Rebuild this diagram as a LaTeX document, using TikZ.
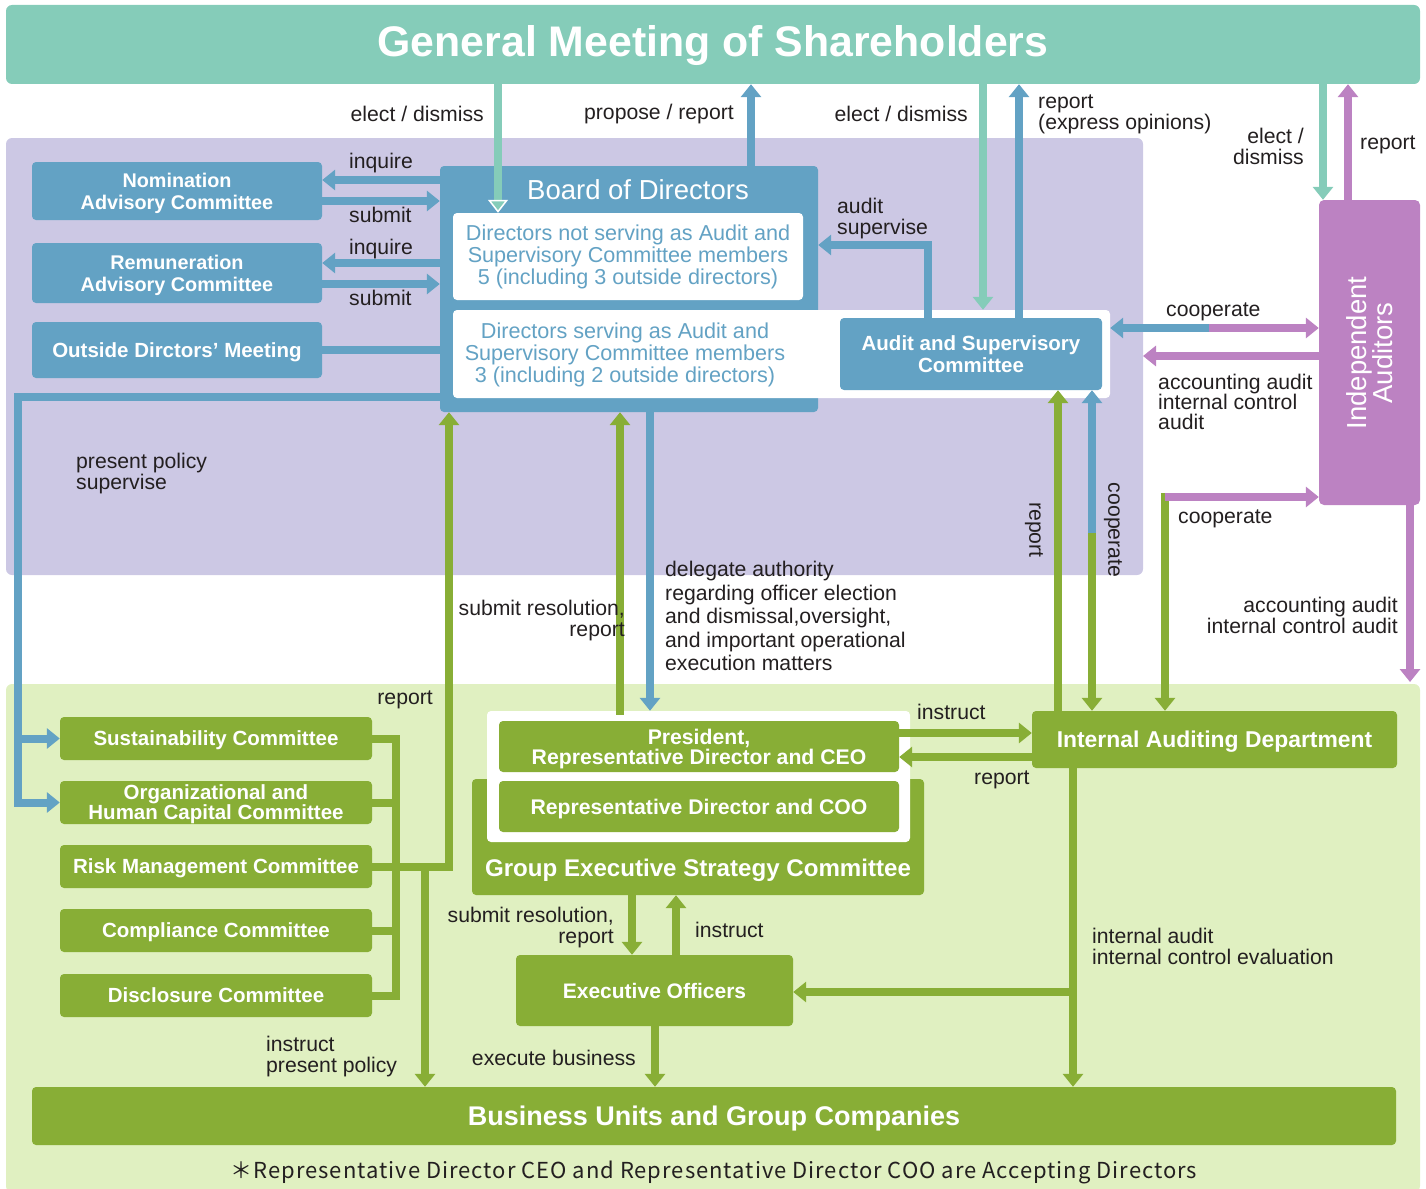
\documentclass[tikz,border=0pt]{standalone}
\usepackage{fontspec}
\setmainfont{Liberation Sans}
\newfontfamily\notefont[LetterSpace=4.5]{Noto Sans CJK JP}
\usetikzlibrary{arrows.meta}

\definecolor{gmsteal}{RGB}{133,204,185}
\definecolor{bodblue}{RGB}{99,162,196}
\definecolor{opgreen}{RGB}{136,174,54}
\definecolor{auditpurple}{RGB}{188,130,194}
\definecolor{boardbg}{RGB}{204,200,228}
\definecolor{execbg}{RGB}{224,240,193}
\definecolor{labelgray}{RGB}{35,31,32}

\newcommand\lblfont{\fontsize{21.2}{21}\selectfont}
\newcommand\boxfont{\bfseries\fontsize{20.5}{22}\selectfont}
\newcommand\dirfont{\fontsize{21.6}{22}\selectfont}

\begin{document}
\begin{tikzpicture}[x=1pt,y=1pt,yscale=-1,
  >={Triangle[width=20pt,length=13pt]},
  lbl/.style={text=labelgray,font=\lblfont,align=left,inner sep=0},
  bluebox/.style={fill=bodblue,rounded corners=4,text=white,font=\boxfont,align=center,inner sep=0,text depth=0pt},
  greenbox/.style={fill=opgreen,rounded corners=4,text=white,font=\boxfont,align=center,inner sep=0,text depth=0pt},
  whitebox/.style={fill=white,rounded corners=4,inner sep=0},
  wire/.style={line width=8,line cap=rect},
  ]
\useasboundingbox (0,0) rectangle (1426,1188);

%Shape: Rectangle [board pane]
\fill[boardbg,rounded corners=6] (6,138) rectangle (1143,575);
%Shape: Rectangle [execution pane]
\fill[execbg,rounded corners=6] (6,684) rectangle (1420,1192);

% General meeting
\node (gms) [fill=gmsteal,rounded corners=6,minimum width=1414,minimum height=79,inner sep=0] at (713,44.5) {};
\node (gmstitle) [text=white,inner sep=0,font=\bfseries\fontsize{42.8}{44}\selectfont] at (713,46) {General Meeting of Shareholders};

% Independent auditors
\node (ia) [fill=auditpurple,rounded corners=5,minimum width=101,minimum height=305,inner sep=0] at (1369.5,352.5) {};
\node (iatext) [rotate=90,text=white,align=center,inner sep=0,font=\fontsize{27.5}{26}\selectfont] at (1370,353) {Independent\\Auditors};

% Advisory bodies
\node (nac) [bluebox,minimum width=290,minimum height=58,font=\bfseries\fontsize{19.8}{22}\selectfont] at (177,191) {Nomination\\Advisory Committee};
\node (rac) [bluebox,minimum width=290,minimum height=60,font=\bfseries\fontsize{19.8}{22}\selectfont] at (177,273) {Remuneration\\Advisory Committee};
\node (odm) [bluebox,minimum width=290,minimum height=56] at (177,350) {Outside Dirctors’ Meeting};

% Board of directors
\node (bod) [fill=bodblue,rounded corners=4,minimum width=378,minimum height=246,inner sep=0] at (629,289) {};
\node (bodtitle) [text=white,inner sep=0,font=\fontsize{27.5}{30}\selectfont] at (638,190) {Board of Directors};
\node (dnot) [whitebox,minimum width=350,minimum height=87,text=bodblue,font=\dirfont,align=center] at (628,256.5) {Directors not serving as Audit and\\Supervisory Committee members\\5 (including 3 outside directors)};
\node (dsrvframe) [whitebox,minimum width=657,minimum height=88] at (781.5,354) {};
\node (dsrv) [text=bodblue,font=\dirfont,align=center,inner sep=0] at (625,355) {Directors serving as Audit and\\Supervisory Committee members\\3 (including 2 outside directors)};
\node (asc) [bluebox,minimum width=262,minimum height=72] at (971,354) {Audit and Supervisory\\Committee};

% Committees
\node (sus) [greenbox,minimum width=312,minimum height=43] at (216,738.5) {Sustainability Committee};
\node (ohc) [greenbox,minimum width=312,minimum height=43,font=\bfseries\fontsize{20.5}{20}\selectfont] at (216,802.5) {Organizational and\\Human Capital Committee};
\node (rmc) [greenbox,minimum width=312,minimum height=43] at (216,866.5) {Risk Management Committee};
\node (cmp) [greenbox,minimum width=312,minimum height=43] at (216,930.5) {Compliance Committee};
\node (dsc) [greenbox,minimum width=312,minimum height=43] at (216,995.5) {Disclosure Committee};

% Executive side
\node (gesc) [greenbox,minimum width=452,minimum height=116] at (698,837) {};
\node (gesctitle) [text=white,inner sep=0,font=\bfseries\fontsize{24.1}{26}\selectfont] at (698,870) {Group Executive Strategy Committee};
\node (geframe) [whitebox,minimum width=423,minimum height=131] at (698.5,776.5) {};
\node (pres) [greenbox,minimum width=400,minimum height=51,font=\bfseries\fontsize{21.2}{20}\selectfont] at (699,746.5) {President,\\Representative Director and CEO};
\node (coo) [greenbox,minimum width=400,minimum height=51,font=\bfseries\fontsize{21.2}{22}\selectfont] at (699,806.5) {Representative Director and COO};
\node (eo) [greenbox,minimum width=277,minimum height=71,font=\bfseries\fontsize{21}{22}\selectfont] at (654.5,990.5) {Executive Officers};
\node (iad) [greenbox,minimum width=365,minimum height=57,font=\bfseries\fontsize{22.9}{24}\selectfont] at (1214.5,739.5) {Internal Auditing Department};
\node (bu) [greenbox,minimum width=1364,minimum height=58,font=\bfseries\fontsize{27}{28}\selectfont] at (714,1116) {Business Units and Group Companies};

% Footnote
\node (note) [text=labelgray,inner sep=0,font=\notefont\fontsize{22}{22}\selectfont] at (714,1172) {＊Representative Director CEO and Representative Director COO are Accepting Directors};

% Connectors: shareholders
\draw[wire,gmsteal,-{Triangle[width=20pt,length=13pt,fill=gmsteal,color=white,line width=1.5pt]}] (gms.south -| 498,0) -- (dnot.north -| 498,0);
\draw[wire,bodblue,->] (bod.north -| 751,0) -- (gms.south -| 751,0);
\draw[wire,gmsteal,->] (gms.south -| 983,0) -- (dsrvframe.north -| 983,0);
\draw[wire,bodblue,->] (asc.north -| 1019,0) -- (gms.south -| 1019,0);
\draw[wire,gmsteal,->] (gms.south -| 1323,0) -- (ia.north -| 1323,0);
\draw[wire,auditpurple,->] (ia.north -| 1348,0) -- (gms.south -| 1348,0);

% Connectors: advisory bodies
\draw[wire,bodblue,->] (bod.west |- 0,180) -- (nac.east |- 0,180);
\draw[wire,bodblue,->] (nac.east |- 0,201) -- (bod.west |- 0,201);
\draw[wire,bodblue,->] (bod.west |- 0,263) -- (rac.east |- 0,263);
\draw[wire,bodblue,->] (rac.east |- 0,284) -- (bod.west |- 0,284);
\draw[wire,bodblue] (odm.east) -- (bod.west |- odm.east);

% Connectors: audit and supervisory committee
\draw[wire,bodblue,->] (asc.north -| 928,0) |- (bod.east |- 0,245);
\coordinate (coopmid) at (1213,328);
\draw[wire,bodblue,->] (coopmid) -- (dsrvframe.east |- coopmid);
\draw[wire,auditpurple,->] (coopmid) -- (ia.west |- coopmid);
\coordinate (boardpane) at (1143,356);
\draw[wire,auditpurple,->] (ia.west |- boardpane) -- (boardpane);

% Connectors: board to execution
\draw[wire,bodblue,->] (bod.west |- 0,397) -| (18,0 |- ohc.west) -- (ohc.west);
\draw[wire,bodblue,->] (sus.west -| 18,0) -- (sus.west);
\draw[wire,bodblue,->] (bod.south -| 650,0) -- (geframe.north -| 650,0);
\draw[wire,opgreen,->] (geframe.north -| 620,0) -- (bod.south -| 620,0);

% Connectors: committees
\coordinate (bus) at (396,0);
\foreach \c in {sus,ohc,cmp,dsc}
  \draw[wire,opgreen] (\c.east) -- (\c.east -| bus);
\draw[wire,opgreen] (sus.east -| bus) -- (dsc.east -| bus);
\draw[wire,opgreen] (rmc.east) -- (rmc.east -| 449,0);
\draw[wire,opgreen,->] (rmc.east -| 449,0) -- (bod.south -| 449,0);
\draw[wire,opgreen,->] (rmc.east -| 425,0) -- (bu.north -| 425,0);

% Connectors: executive side
\draw[wire,opgreen,->] (gesc.south -| 632,0) -- (eo.north -| 632,0);
\draw[wire,opgreen,->] (eo.north -| 676,0) -- (gesc.south -| 676,0);
\draw[wire,opgreen,->] (eo.south -| 655,0) -- (bu.north -| 655,0);
\draw[wire,opgreen,->] (pres.east |- 0,733) -- (iad.west |- 0,733);
\draw[wire,opgreen,->] (iad.west |- 0,757) -- (pres.east |- 0,757);

% Connectors: internal auditing
\draw[wire,opgreen,->] (iad.north -| 1058,0) -- (asc.south -| 1058,0);
\coordinate (coopsplit) at (1092,537);
\draw[wire,bodblue,->] (coopsplit) -- (asc.south -| coopsplit);
\draw[wire,opgreen,->] (coopsplit) -- (iad.north -| coopsplit);
\coordinate (coopcorner) at (1165,497);
\draw[wire,opgreen,->] (coopcorner) -- (iad.north -| coopcorner);
\draw[wire,auditpurple,->] ([xshift=4]coopcorner) -- (ia.west |- coopcorner);
\coordinate (execpane) at (1410,682);
\draw[wire,auditpurple,->] (ia.south -| execpane) -- (execpane);
\draw[wire,opgreen,->] (iad.south -| 1073,0) -- (bu.north -| 1073,0);
\coordinate (audfork) at (1073,992);
\draw[wire,opgreen,->] (audfork) -- (eo.east |- audfork);

% Text Node
\node (l1) [lbl,anchor=east] at (484,114) {elect / dismiss};
\node (l2) [lbl,anchor=east] at (734,114) {propose / report};
\node (l3) [lbl,anchor=east] at (968,114) {elect / dismiss};
\node (l4) [lbl,anchor=west] at (1038,114) {report\\(express opinions)};
\node (l5) [lbl,anchor=east,align=right] at (1304,146) {elect /\\dismiss};
\node (l6) [lbl,anchor=west] at (1360,145) {report};
\node (l7) [lbl,anchor=west] at (349,163) {inquire};
\node (l8) [lbl,anchor=west] at (349,215) {submit};
\node (l9) [lbl,anchor=west] at (349,249) {inquire};
\node (l10) [lbl,anchor=west] at (349,298) {submit};
\node (l11) [lbl,anchor=west] at (837,219) {audit\\supervise};
\node (l12) [lbl,anchor=west] at (1166,312) {cooperate};
\node (l13) [lbl,anchor=west,font=\fontsize{21.2}{20}\selectfont] at (1158,402) {accounting audit\\internal control\\audit};
\node (l14) [lbl,anchor=west] at (76,474) {present policy\\supervise};
\node (l15) [lbl,anchor=east,align=right] at (625,621) {submit resolution,\\report};
\node (l16) [lbl,anchor=west,font=\fontsize{21.2}{23.5}\selectfont] at (665,616) {delegate authority\\regarding officer election\\and dismissal,oversight,\\and important operational\\execution matters};
\node (l17) [lbl,rotate=-90] at (1034,530) {report};
\node (l18) [lbl,rotate=-90] at (1113,530) {cooperate};
\node (l19) [lbl,anchor=west] at (1178,519) {cooperate};
\node (l20) [lbl,anchor=east,align=right] at (1398,615) {accounting audit\\internal control audit};
\node (l21) [lbl,anchor=east] at (433,700) {report};
\node (l22) [lbl,anchor=west] at (917,712) {instruct};
\node (l23) [lbl,anchor=west] at (974,780) {report};
\node (l24) [lbl,anchor=east,align=right] at (614,928) {submit resolution,\\report};
\node (l25) [lbl,anchor=west] at (695,930) {instruct};
\node (l26) [lbl,anchor=west] at (1092,946) {internal audit\\internal control evaluation};
\node (l27) [lbl,anchor=west] at (266,1057) {instruct\\present policy};
\node (l28) [lbl,anchor=east] at (636,1058) {execute business};

\end{tikzpicture}
\end{document}
